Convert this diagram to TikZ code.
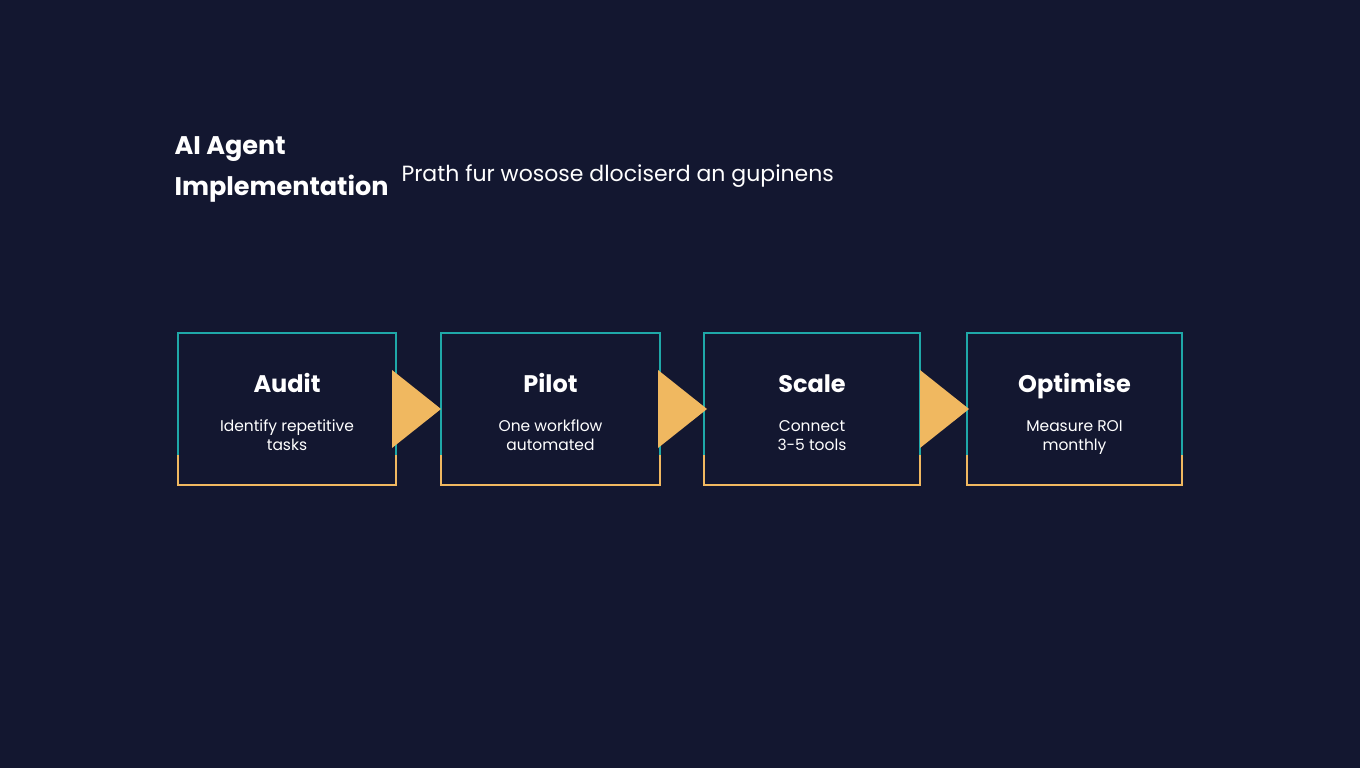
\documentclass[tikz,border=0pt]{standalone}
\usepackage{fontspec}
\setmainfont{Poppins}
\definecolor{bgnavy}{HTML}{131730}
\definecolor{tealline}{HTML}{1FA8A8}
\definecolor{goldline}{HTML}{F0B860}
\tikzset{
  stagehead/.style={font=\bfseries\fontsize{24}{28}\selectfont, text=white, anchor=base},
  note/.style={font=\fontsize{15.5}{19}\selectfont, text=white, align=center, anchor=base},
  arrowhead/.style={fill=goldline, draw=none}
}
\begin{document}
\begin{tikzpicture}[x=1pt,y=-1pt]
  \fill[bgnavy] (0,0) rectangle (1360,768);
  \useasboundingbox (0,0) rectangle (1360,768);

  % title
  \node[anchor=west, font=\bfseries\fontsize{25.5}{41}\selectfont, text=white, align=left] (title) at (171,169) {AI Agent\\Implementation};
  \node[anchor=west, font=\fontsize{22}{25}\selectfont, text=white] (subtitle) at (398,176) {Prath fur wosose dlociserd an gupinens};

  % stages
  \foreach \x/\w/\name/\head/\body in {
      178/218/audit/Audit/{Identify repetitive\\tasks},
      441/219/pilot/Pilot/{One workflow\\automated},
      704/216/scale/Scale/{Connect\\3-5 tools},
      967/215/optimise/Optimise/{Measure ROI\\monthly}} {
    \draw[tealline, line width=1.2pt] (\x,455) -- (\x,333) -- (\x+\w,333) -- (\x+\w,455);
    \draw[goldline, line width=1.2pt] (\x,455) -- (\x,485) -- (\x+\w,485) -- (\x+\w,455);
    \node[stagehead] (\name) at (\x+\w/2,392) {\head};
    \node[note] (\name-note) at (\x+\w/2,450) {\body};
  }

  % arrows between stages
  \foreach \x in {392,658,920} {
    \fill[arrowhead] (\x,370) -- (\x+49,409) -- (\x,448) -- cycle;
  }
\end{tikzpicture}
\end{document}
